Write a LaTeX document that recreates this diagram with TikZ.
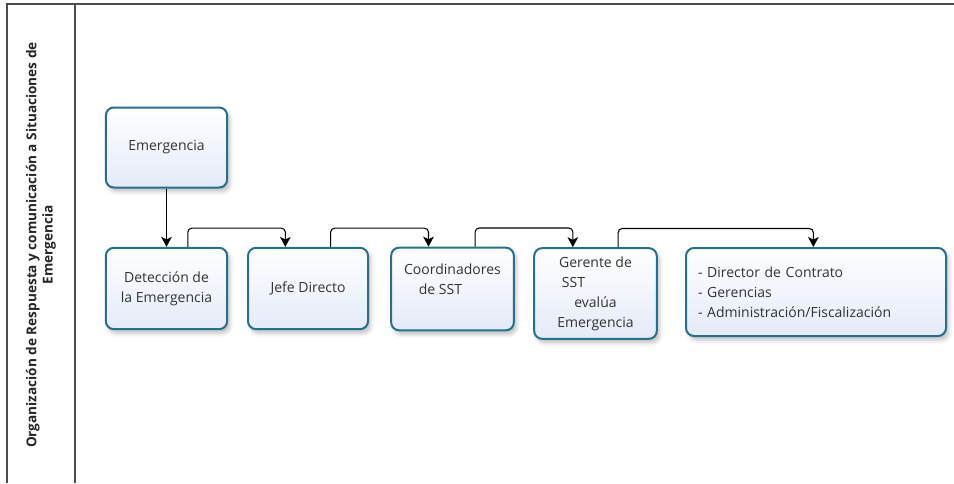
\documentclass[tikz,border=0pt]{standalone}
\usepackage{fontspec}
\setmainfont{Open Sans}
\usetikzlibrary{arrows.meta,shadows.blur}

\definecolor{boxline}{RGB}{38,112,140}
\definecolor{boxfill}{RGB}{228,234,248}
\tikzset{
	caja/.style={draw=boxline, line width=1.5pt, rounded corners=6pt,
		top color=white, bottom color=boxfill, text=black!80,
		font=\fontsize{10.5}{15}\selectfont, inner sep=3pt,
		blur shadow={shadow xshift=2pt, shadow yshift=-3pt, shadow opacity=25, shadow blur radius=3pt}},
	flujo/.style={-{Stealth[length=7.5pt,width=8pt,inset=2pt]}, line width=0.8pt, rounded corners=3pt},
}

\begin{document}
\begin{tikzpicture}[x=0.75pt,y=-0.75pt]
				\useasboundingbox (0,0) rectangle (954,483);
				\draw[black!70, line width=1.2pt] (954,4) -- (7,4) -- (7,483);
				\draw[black!70, line width=1.2pt] (75,4) -- (75,483);
				
				\node[rotate=90, align=center, text=black!85, font=\bfseries\fontsize{10.2}{12.2}\selectfont] (titulo) at (41,245)
					{Organización de Respuesta y comunicación a Situaciones de\\Emergencia};
				
				\node[caja, minimum width=91pt, minimum height=60pt, align=center] (emerg) at (166.5,147.5) {Emergencia};
				\node[caja, minimum width=91pt, minimum height=61pt, align=center] (detec) at (166.5,288.5) {Detección de\\la Emergencia};
				\node[caja, minimum width=90pt, minimum height=61pt, align=center] (jefe) at (308,288.5) {Jefe Directo};
				\node[caja, minimum width=92pt, minimum height=62pt, align=center] (coord) at (452.5,289) {Coordinadores\\de SST\makebox[18pt]{}\\\mbox{}};
				\node[caja, minimum width=92pt, minimum height=68pt, align=center] (geren) at (595.5,293.5) {Gerente de\\SST\makebox[33pt]{}\\evalúa\\Emergencia};
				\node[caja, minimum width=195pt, minimum height=66pt, align=left, text width=177pt, inner xsep=9pt] (dirs) at (816,292)
					{- Director de Contrato\\- Gerencias\\- Administración/Fiscalización};
				
				\draw[flujo] (emerg) -- (detec);
				\draw[flujo] ([xshift=16pt]detec.north) -- ++(0,14pt) -| ([xshift=-17pt]jefe.north);
				\draw[flujo] ([xshift=17pt]jefe.north) -- ++(0,14pt) -| ([xshift=-18pt]coord.north);
				\draw[flujo] ([xshift=17pt]coord.north) -- ++(0,14pt) -| ([xshift=-17pt]geren.north);
				\draw[flujo] ([xshift=17pt]geren.north) -- ++(0,14pt) -| ([xshift=-2pt]dirs.north);
			\end{tikzpicture}
\end{document}
